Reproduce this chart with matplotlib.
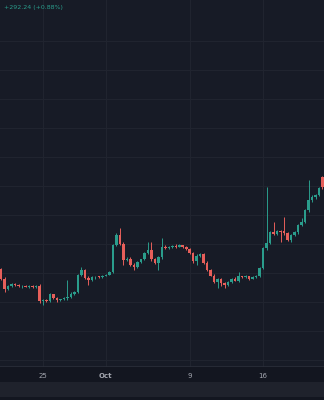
import pandas as pd
import matplotlib.pyplot as plt
import matplotlib.dates as mdates
from matplotlib.patches import Rectangle

# 8h candles, BTC-style prices
opens = [27250, 27150, 26800, 26450, 26560, 26620, 26570, 26540, 26550, 26530,
         26540, 26520, 26560, 26020, 26080, 26040, 26260, 26140, 26060, 26100,
         26130, 26180, 26280, 26340, 26930, 27100, 26830, 26760, 26850, 26870,
         26860, 26900, 26940, 27030, 27970, 28310, 28000, 27450, 27500, 27280,
         27210, 27380, 27470, 27690, 27790, 27480, 27350, 27540, 27900, 27860,
         27880, 27920, 27900, 27950, 27880, 27830, 27690, 27400, 27600, 27640,
         27350, 27100, 26900, 26690, 26780, 26640, 26570, 26680, 26800, 26740,
         26880, 26860, 26880, 26800, 26860, 26890, 27170, 27860, 28030, 28400,
         28330, 28450, 28450, 28380, 28140, 28300, 28400, 28660, 28760, 29170,
         29520, 29620, 29690, 30310]
highs = [27300, 27180, 26850, 26600, 26660, 26650, 26610, 26580, 26590, 26570,
         26580, 26570, 26620, 26110, 26120, 26320, 26290, 26170, 26120, 26160,
         26760, 26330, 26380, 26980, 27200, 27130, 26880, 26880, 26900, 26910,
         26930, 26960, 27060, 28000, 28380, 28560, 28060, 27560, 27540, 27330,
         27420, 27500, 27720, 28060, 28080, 27520, 27580, 28210, 27950, 27930,
         27960, 27990, 28000, 27980, 27920, 27870, 27720, 27640, 27680, 27680,
         27400, 27140, 26950, 26820, 26830, 26690, 26720, 26840, 26870, 27030,
         26910, 26920, 26900, 26890, 26920, 27200, 27900, 29970, 28450, 28760,
         28480, 28480, 28930, 28420, 28340, 28450, 28700, 28900, 29220, 30200,
         29680, 29720, 29960, 30330]
lows = [27100, 26760, 26330, 26420, 26520, 26540, 26520, 26500, 26510, 26500,
        26500, 26490, 25950, 25900, 25990, 26010, 26090, 26010, 26030, 26060,
        26080, 26140, 26250, 26300, 26900, 26780, 26600, 26730, 26800, 26830,
        26840, 26880, 26920, 27000, 27940, 27950, 27280, 27420, 27250, 27100,
        27180, 27350, 27440, 27650, 27430, 27320, 27100, 27500, 27830, 27830,
        27850, 27870, 27880, 27850, 27790, 27660, 27360, 27280, 27560, 27320,
        27060, 26880, 26650, 26480, 26560, 26480, 26540, 26640, 26710, 26700,
        26830, 26840, 26770, 26780, 26840, 26860, 27130, 27800, 27990, 28300,
        28300, 28070, 28300, 28100, 28070, 28270, 28360, 28620, 28720, 29120,
        29460, 29550, 29650, 29900]
closes = [27150, 26800, 26450, 26560, 26620, 26570, 26540, 26550, 26530, 26540,
          26520, 26560, 26020, 26080, 26040, 26260, 26140, 26060, 26100, 26130,
          26180, 26280, 26340, 26930, 27100, 26830, 26760, 26850, 26870, 26860,
          26900, 26940, 27030, 27970, 28310, 28000, 27450, 27500, 27280, 27210,
          27380, 27470, 27690, 27790, 27480, 27350, 27540, 27900, 27860, 27880,
          27920, 27900, 27950, 27880, 27830, 27690, 27400, 27600, 27640, 27350,
          27100, 26900, 26690, 26780, 26640, 26570, 26680, 26800, 26740, 26880,
          26860, 26880, 26800, 26860, 26890, 27170, 27860, 28030, 28400, 28330,
          28450, 28400, 28380, 28140, 28300, 28400, 28660, 28760, 29170, 29520,
          29620, 29690, 29930, 29950]

tick_dates = ['2023-09-25', '2023-10-01', '2023-10-09', '2023-10-16']
tick_labels = ['25', 'Oct', '9', '16']
header = '+292.24 (+0.88%)'

bg = '#171b26'
grid_c = '#20242f'
up_c = '#2a9d8c'
down_c = '#e65f5a'

times = pd.date_range('2023-09-20 16:00', periods=len(closes), freq='8h')
x = mdates.date2num(times)

fig = plt.figure(figsize=(3.24, 4.0), dpi=100)
fig.patch.set_facecolor('#131620')
ax = fig.add_axes([0, 33 / 400, 1, 367 / 400])
ax.set_facecolor(bg)

colors = [up_c if c >= o else down_c for o, c in zip(opens, closes)]
bottoms = [min(o, c) for o, c in zip(opens, closes)]
heights = [max(abs(c - o), 25) for o, c in zip(opens, closes)]

ax.vlines(x, lows, highs, colors=colors, linewidth=0.7, zorder=3)
ax.bar(x, heights, bottom=bottoms, width=0.24, color=colors, linewidth=0, zorder=4)

ref = mdates.date2num(pd.Timestamp('2023-09-25'))
ax.set_xlim(ref - 4.103, ref + 26.81)
ax.set_ylim(23759, 36414)

ax.set_yticks(range(24000, 36000, 1000))
ax.set_xticks(mdates.date2num(pd.to_datetime(tick_dates)))
ax.set_xticklabels(tick_labels)
for lbl in ax.get_xticklabels():
    if lbl.get_text() == 'Oct':
        lbl.set_fontweight('bold')
        lbl.set_color('#c8cad0')
ax.grid(True, color=grid_c, linewidth=0.8, zorder=0)
ax.tick_params(axis='x', length=0, pad=4, labelsize=5, colors='#a3a6af')
ax.tick_params(axis='y', length=0, labelleft=False)
for s in ax.spines.values():
    s.set_visible(False)
ax.axhline(23759, color='#2a2e39', linewidth=1.2, zorder=5)

# lighter strip under the time scale
fig.patches.append(Rectangle((0, 3 / 400), 1, 15 / 400, transform=fig.transFigure,
                             facecolor='#1f222c', edgecolor='none', zorder=0))

fig.text(0.012, 1 - 8 / 400, header, color=up_c, fontsize=4.5, va='center')

plt.savefig('out.png', dpi=100, facecolor=fig.get_facecolor())
